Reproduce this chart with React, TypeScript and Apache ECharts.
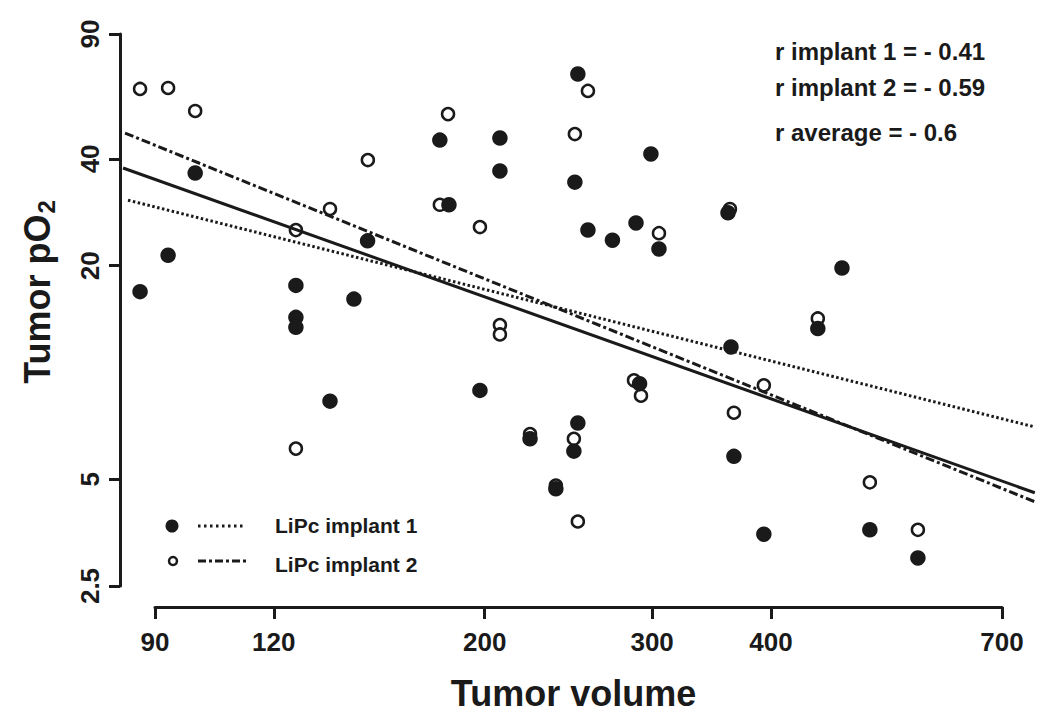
import React, { useEffect, useRef } from "react";
import * as echarts from "echarts";

// Tick labels
const xTickLabels = [90, 120, 200, 300, 400, 700];
const yTickLabels = [2.5, 5, 20, 40, 90];

// LiPc implant 1 (filled circles): tumor volume, tumor pO2
const implant1Volume = [86.8, 92.9, 99.2, 126.6, 126.6, 126.6, 137.5, 145.7, 150.6, 179.4, 183.4, 207.5, 207.5, 197.7, 223.2, 237.6, 248.2, 250.6, 248.8, 250.6, 256.8, 272.5, 288.5, 299.1, 305.0, 291.0, 360.5, 363.1, 365.7, 393.2, 448.1, 475.1, 508.3, 571.0];
const implant1PO2 = [16.9, 21.4, 36.5, 17.6, 14.3, 13.4, 8.3, 16.1, 23.5, 45.2, 29.7, 45.8, 37.0, 8.9, 6.5, 4.7, 6.0, 7.2, 34.4, 69.4, 25.2, 23.6, 26.4, 41.3, 22.3, 9.3, 28.2, 11.8, 5.8, 3.5, 13.3, 19.7, 3.6, 3.0];

// LiPc implant 2 (open circles)
const implant2Volume = [86.8, 92.9, 99.2, 126.6, 137.5, 126.6, 150.7, 179.4, 183.0, 197.7, 207.5, 207.5, 223.2, 237.6, 248.8, 256.8, 248.2, 250.6, 287.1, 292.0, 305.0, 362.2, 365.7, 393.2, 448.1, 508.3, 571.0];
const implant2PO2 = [63.0, 63.4, 54.6, 25.2, 28.9, 6.1, 39.7, 29.7, 53.5, 25.7, 13.6, 12.8, 6.7, 4.8, 47.0, 62.2, 6.5, 3.8, 9.5, 8.6, 24.7, 28.9, 7.7, 9.2, 14.2, 4.9, 3.6];

// Regression lines (end points)
const fit1Volume = [84.3, 757.9];
const fit1PO2 = [30.6, 7.02];
const fit2Volume = [83.7, 757.9];
const fit2PO2 = [47.3, 4.32];
const fitAvgVolume = [83.3, 757.9];
const fitAvgPO2 = [37.7, 4.58];

const annotations = ["r implant 1 = - 0.41", "r implant 2 = - 0.59", "r average = - 0.6"];
const legendLabels = ["LiPc implant 1", "LiPc implant 2"];

const INK = "#1a1a1a";
const FONT = "'Liberation Sans', Arial, Helvetica, sans-serif";

const lg = (v: number) => Math.log10(v);
const pairs = (xs: number[], ys: number[]) => xs.map((x, i) => [lg(x), lg(ys[i])]);
const segment = (xs: number[], ys: number[]) => [[lg(xs[0]), lg(ys[0]), lg(xs[1]), lg(ys[1])]];
const nearestLabel = (ticks: number[]) => (v: number) => {
  let best = ticks[0];
  ticks.forEach((t) => {
    if (Math.abs(lg(t) - v) < Math.abs(lg(best) - v)) best = t;
  });
  return String(best);
};

const fitLine = (name: string, xs: number[], ys: number[], dash: number[] | null) => ({
  name,
  type: "custom",
  data: segment(xs, ys),
  encode: { x: [0, 2], y: [1, 3] },
  clip: false,
  z: 4,
  silent: true,
  renderItem: (_p: any, api: any) => {
    const a = api.coord([api.value(0), api.value(1)]);
    const b = api.coord([api.value(2), api.value(3)]);
    return {
      type: "line",
      shape: { x1: a[0], y1: a[1], x2: b[0], y2: b[1] },
      style: { stroke: INK, lineWidth: 3, lineDash: dash || undefined, fill: null },
    };
  },
});

export default function App() {
  const ref = useRef<HTMLDivElement>(null);

  useEffect(() => {
    if (!ref.current) return;
    const chart = echarts.init(ref.current, undefined, { renderer: "svg" });

    const axisCommon = {
      type: "value" as const,
      splitLine: { show: false },
      axisLine: { show: true, lineStyle: { color: INK, width: 3 } },
    };

    chart.setOption({
      animation: false,
      backgroundColor: "#ffffff",
      grid: { left: 155, right: 48, top: 34, bottom: 132 },
      xAxis: {
        ...axisCommon,
        min: lg(xTickLabels[0]),
        max: lg(xTickLabels[xTickLabels.length - 1]),
        offset: 21,
        axisTick: {
          show: true,
          customValues: xTickLabels.map(lg),
          length: 12,
          lineStyle: { color: INK, width: 3 },
        },
        axisLabel: {
          customValues: xTickLabels.map(lg),
          formatter: nearestLabel(xTickLabels),
          fontFamily: FONT,
          fontSize: 26,
          fontWeight: "bold",
          color: INK,
          margin: 22,
        },
        name: "Tumor volume",
        nameLocation: "middle",
        nameGap: 68,
        nameTextStyle: { fontFamily: FONT, fontSize: 36, fontWeight: "bold", color: INK, padding: [0, 10, 0, 0] },
      },
      yAxis: {
        ...axisCommon,
        min: lg(yTickLabels[0]),
        max: lg(yTickLabels[yTickLabels.length - 1]),
        offset: 35,
        axisTick: {
          show: true,
          customValues: yTickLabels.map(lg),
          length: 11,
          lineStyle: { color: INK, width: 3 },
        },
        axisLabel: {
          customValues: yTickLabels.map(lg),
          formatter: nearestLabel(yTickLabels),
          rotate: 90,
          fontFamily: FONT,
          fontSize: 26,
          fontWeight: "bold",
          color: INK,
          margin: 17,
        },
        name: "{a|Tumor pO}{s|2}",
        nameLocation: "middle",
        nameRotate: 90,
        nameGap: 62,
        nameTextStyle: {
          padding: [0, 0, 0, 36],
          rich: {
            a: { fontFamily: FONT, fontSize: 36, fontWeight: "bold", color: INK },
            s: { fontFamily: FONT, fontSize: 24, fontWeight: "bold", color: INK, verticalAlign: "bottom", padding: [18, 0, 0, 1] },
          },
        },
      },
      series: [
        {
          name: legendLabels[1],
          type: "scatter",
          data: pairs(implant2Volume, implant2PO2),
          symbol: "circle",
          symbolSize: 12,
          itemStyle: { color: "#ffffff", borderColor: INK, borderWidth: 2.5, opacity: 1 },
          clip: false,
          z: 2,
        },
        {
          name: legendLabels[0],
          type: "scatter",
          data: pairs(implant1Volume, implant1PO2),
          symbol: "circle",
          symbolSize: 15.5,
          itemStyle: { color: INK, opacity: 1 },
          clip: false,
          z: 3,
        },
        fitLine("fit implant 1", fit1Volume, fit1PO2, [2.5, 2.5]),
        fitLine("fit implant 2", fit2Volume, fit2PO2, [9, 3, 3, 3]),
        fitLine("fit average", fitAvgVolume, fitAvgPO2, null),
      ],
      graphic: [
        ...annotations.map((t, i) => ({
          type: "text",
          left: 775,
          top: [39, 75, 120][i],
          style: { text: t, font: `bold 24px ${FONT}`, fill: INK },
        })),
        // legend
        { type: "circle", shape: { cx: 172, cy: 526, r: 6.5 }, style: { fill: INK } },
        { type: "line", shape: { x1: 198, y1: 526, x2: 245, y2: 526 }, style: { stroke: INK, lineWidth: 3, lineDash: [2.5, 3.5] } },
        { type: "text", left: 275, top: 515, style: { text: legendLabels[0], font: `bold 21px ${FONT}`, fill: INK } },
        { type: "circle", shape: { cx: 173, cy: 561, r: 4 }, style: { fill: "#fff", stroke: INK, lineWidth: 2.5 } },
        { type: "line", shape: { x1: 198, y1: 561, x2: 248, y2: 561 }, style: { stroke: INK, lineWidth: 3, lineDash: [8, 3, 3, 3] } },
        { type: "text", left: 275, top: 554, style: { text: legendLabels[1], font: `bold 21px ${FONT}`, fill: INK } },
      ],
    });

    return () => chart.dispose();
  }, []);

  return (
    <div
      ref={ref}
      style={{ position: "fixed", left: 0, top: 0, width: 1050, height: 718, background: "#fff" }}
    />
  );
}
